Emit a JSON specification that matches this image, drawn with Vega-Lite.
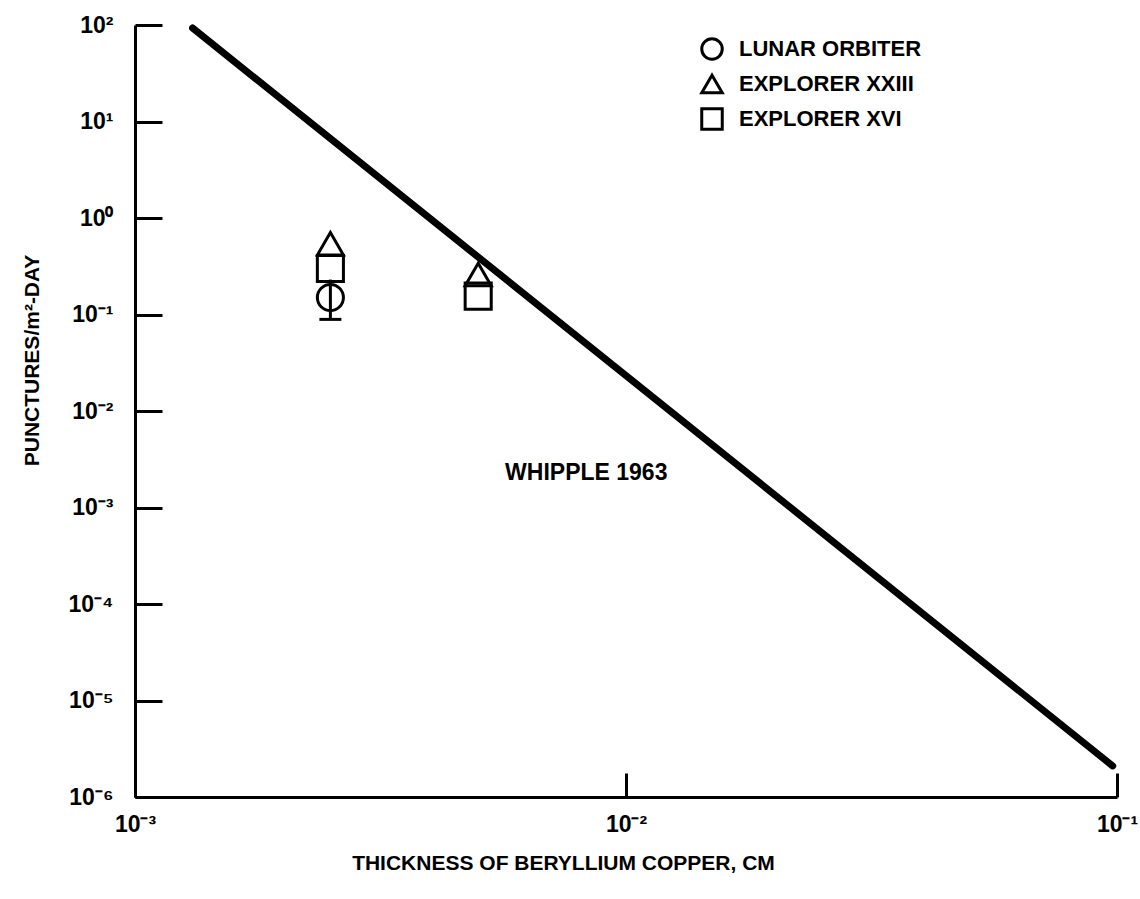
{
  "$schema": "https://vega.github.io/schema/vega-lite/v6.json",
  "width": 982,
  "height": 772,
  "autosize": {"type": "none"},
  "padding": {"left": 135, "top": 25, "right": 23, "bottom": 102},
  "background": "white",
  "config": {
    "view": {"stroke": null},
    "font": "Liberation Sans",
    "axis": {
      "grid": false,
      "domainColor": "black",
      "domainWidth": 3,
      "tickColor": "black",
      "tickWidth": 3,
      "labelColor": "black",
      "labelFont": "Liberation Sans",
      "labelFontWeight": "bold",
      "labelFontSize": 23,
      "titleColor": "black",
      "titleFont": "Liberation Sans",
      "titleFontWeight": "bold",
      "titleFontSize": 21
    }
  },
  "datasets": {
    "whipple": [
      {"thickness": 0.00131, "punctures": 93},
      {"thickness": 0.098, "punctures": 0.0000021}
    ],
    "points": [
      {"thickness": 0.0025, "punctures": 0.54, "mission": "EXPLORER XXIII"},
      {"thickness": 0.0025, "punctures": 0.30, "mission": "EXPLORER XVI"},
      {"thickness": 0.0025, "punctures": 0.15, "mission": "LUNAR ORBITER"},
      {"thickness": 0.005, "punctures": 0.26, "mission": "EXPLORER XXIII"},
      {"thickness": 0.005, "punctures": 0.155, "mission": "EXPLORER XVI"}
    ],
    "errorbar": [
      {"thickness": 0.0025, "punctures": 0.089, "high": 0.23}
    ],
    "annot": [
      {"thickness": 0.0083, "punctures": 0.0023, "label": "WHIPPLE 1963"}
    ]
  },
  "encoding": {
    "x": {
      "field": "thickness",
      "type": "quantitative",
      "scale": {"type": "log", "domain": [0.001, 0.1], "nice": false},
      "axis": {
        "title": "THICKNESS OF BERYLLIUM COPPER, CM",
        "values": [0.001, 0.01, 0.1],
        "labelExpr": "'10' + ['⁻³','⁻²','⁻¹'][round(log(datum.value)/LN10)+3]",
        "tickSize": -24,
        "labelPadding": 40,
        "labelBaseline": "top",
        "labelFlush": false,
        "labelOverlap": false,
        "titleX": 428,
        "titleY": 66,
        "titleAnchor": null,
        "titleAlign": "center",
        "titleBaseline": "middle"
      }
    },
    "y": {
      "field": "punctures",
      "type": "quantitative",
      "scale": {"type": "log", "domain": [0.000001, 100], "nice": false},
      "axis": {
        "title": "PUNCTURES/m²-DAY",
        "values": [0.000001, 0.00001, 0.0001, 0.001, 0.01, 0.1, 1, 10, 100],
        "labelExpr": "'10' + ['⁻⁶','⁻⁵','⁻⁴','⁻³','⁻²','⁻¹','⁰','¹','²'][round(log(datum.value)/LN10)+6]",
        "tickSize": -27,
        "labelPadding": 49,
        "labelBaseline": "middle",
        "labelDy": 3,
        "labelFlush": false,
        "labelOverlap": false,
        "titleX": -103,
        "titleY": 335,
        "titleAngle": -90,
        "titleAlign": "center",
        "titleBaseline": "middle"
      }
    }
  },
  "layer": [
    {
      "data": {"name": "whipple"},
      "mark": {"type": "line", "color": "black", "strokeWidth": 7, "strokeCap": "round"}
    },
    {
      "data": {"name": "errorbar"},
      "mark": {"type": "rule", "color": "black", "strokeWidth": 3},
      "encoding": {"y2": {"field": "high"}}
    },
    {
      "data": {"name": "errorbar"},
      "mark": {"type": "tick", "orient": "horizontal", "color": "black", "size": 22, "thickness": 3, "opacity": 1}
    },
    {
      "data": {"name": "points"},
      "mark": {"type": "point", "filled": false, "color": "black", "strokeWidth": 3, "size": 680, "opacity": 1},
      "encoding": {
        "shape": {
          "field": "mission",
          "type": "nominal",
          "scale": {
            "domain": ["LUNAR ORBITER", "EXPLORER XXIII", "EXPLORER XVI"],
            "range": ["circle", "triangle-up", "square"]
          },
          "legend": {
            "title": null,
            "orient": "none",
            "legendX": 565,
            "legendY": 12,
            "padding": 0,
            "symbolSize": 420,
            "symbolStrokeWidth": 3,
            "symbolStrokeColor": "black",
            "symbolOpacity": 1,
            "labelFont": "Liberation Sans",
            "labelFontWeight": "bold",
            "labelFontSize": 22,
            "labelColor": "black",
            "labelLimit": 400,
            "labelOffset": 15,
            "rowPadding": 3
          }
        }
      }
    },
    {
      "data": {"name": "annot"},
      "mark": {"type": "text", "color": "black", "font": "Liberation Sans", "fontWeight": "bold", "fontSize": 23, "align": "center", "baseline": "middle"},
      "encoding": {"text": {"field": "label"}}
    }
  ]
}
